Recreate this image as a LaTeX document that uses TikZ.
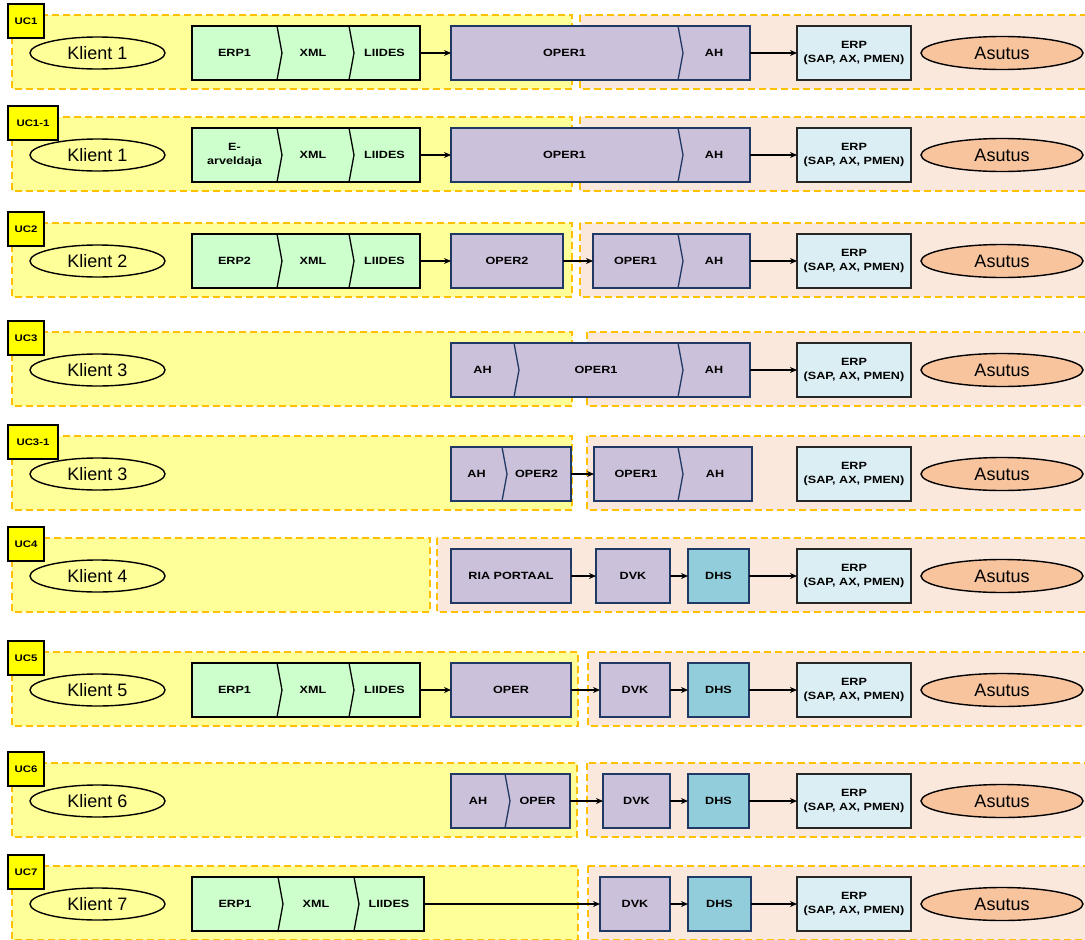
\documentclass[tikz,border=0pt]{standalone}
\usepackage{fontspec}
\setmainfont{Liberation Sans}
\newfontfamily\lbl{Liberation Sans}[FakeStretch=1.2]
\usetikzlibrary{shapes.geometric,arrows.meta}
\definecolor{yfill}{HTML}{FFFF99}
\definecolor{pfill}{HTML}{FBE8DC}
\definecolor{dashc}{HTML}{FFC000}
\definecolor{gfill}{HTML}{CCFFCC}
\definecolor{pufill}{HTML}{CCC1DA}
\definecolor{navy}{HTML}{1F3864}
\definecolor{dhsfill}{HTML}{92CDDC}
\definecolor{erpfill}{HTML}{DAEEF3}
\definecolor{asfill}{HTML}{F8C49E}
\definecolor{ucfill}{HTML}{FFFF00}
\newcommand\chevsep[2]{\draw[line width=1.3pt,#2] (#1.north east) -- ([xshift=5pt]#1.east) -- (#1.south east);}
\newcommand\chainbox[3]{\draw[line width=1.3pt,#3] (#1.north west) rectangle (#2.south east);}
\tikzset{
 yreg/.style={fill=yfill, draw=dashc, line width=1.2pt, dash pattern=on 7pt off 4pt},
 preg/.style={fill=pfill, draw=dashc, line width=1.2pt, dash pattern=on 7pt off 4pt},
 uclbl/.style={draw=black, fill=ucfill, line width=1.2pt, inner sep=0pt, outer sep=0pt, minimum height=34pt, anchor=north west, font=\lbl\bfseries\fontsize{9.5}{10}\selectfont},
 klient/.style={ellipse, draw=black, line width=1.4pt, minimum width=135pt, minimum height=32pt, inner sep=0pt, font=\fontsize{18}{20}\selectfont},
 asutus/.style={klient, fill=asfill, minimum width=162pt, minimum height=33pt},
 seg/.style={inner sep=0pt, outer sep=0pt, minimum height=54pt, anchor=west, align=center, font=\lbl\bfseries\fontsize{10.5}{14}\selectfont},
 gseg/.style={seg, fill=gfill},
 pseg/.style={seg, fill=pufill},
 pbox/.style={seg, fill=pufill, draw=navy, line width=1.3pt},
 dbox/.style={seg, fill=dhsfill, draw=navy, line width=1.3pt},
 ebox/.style={seg, fill=erpfill, draw=black!85, line width=1.3pt, minimum width=114pt},
 arr/.style={-{Stealth[length=7pt,width=6pt]}, line width=1.3pt, black},
}
\begin{document}
\begin{tikzpicture}[x=1pt,y=-1pt]
\clip (0,0) rectangle (1085,940);
\fill[white] (0,0) rectangle (1085,940);
% ---------- UC1
\begin{scope}[yshift=-53pt]
\draw[yreg] (12,-38) rectangle (572,36);
\draw[preg] (580,-38) rectangle (1095,36);
\node[uclbl, minimum width=36pt] (uc1) at (8,-49) {UC1};
\node[klient] (k1) at (97.5,0) {Klient 1};
\node[gseg, minimum width=85pt] (a1) at (192,0) {ERP1};
\node[gseg, minimum width=72pt] (b1) at (277,0) {XML};
\node[gseg, minimum width=71pt] (c1) at (349,0) {LIIDES};
\chainbox{a1}{c1}{black}\chevsep{a1}{black}\chevsep{b1}{black}
\node[pseg, minimum width=227pt] (d1) at (451,0) {OPER1};
\node[pseg, minimum width=72pt] (e1) at (678,0) {AH};
\chainbox{d1}{e1}{navy}\chevsep{d1}{navy}
\node[ebox] (f1) at (797,0) {ERP\\(SAP, AX, PMEN)};
\node[asutus] (g1) at (1002,0) {Asutus};
\draw[arr] (c1) -- (d1);
\draw[arr] (e1) -- (f1);
\end{scope}
% ---------- UC1-1
\begin{scope}[yshift=-155pt]
\draw[yreg] (12,-38) rectangle (572,36);
\draw[preg] (580,-38) rectangle (1095,36);
\node[uclbl, minimum width=50pt] (uc11) at (8,-49) {UC1-1};
\node[klient] (k11) at (97.5,0) {Klient 1};
\node[gseg, minimum width=85pt] (a11) at (192,0) {E-\\arveldaja};
\node[gseg, minimum width=72pt] (b11) at (277,0) {XML};
\node[gseg, minimum width=71pt] (c11) at (349,0) {LIIDES};
\chainbox{a11}{c11}{black}\chevsep{a11}{black}\chevsep{b11}{black}
\node[pseg, minimum width=227pt] (d11) at (451,0) {OPER1};
\node[pseg, minimum width=72pt] (e11) at (678,0) {AH};
\chainbox{d11}{e11}{navy}\chevsep{d11}{navy}
\node[ebox] (f11) at (797,0) {ERP\\(SAP, AX, PMEN)};
\node[asutus] (g11) at (1002,0) {Asutus};
\draw[arr] (c11) -- (d11);
\draw[arr] (e11) -- (f11);
\end{scope}
% ---------- UC2
\begin{scope}[yshift=-261pt]
\draw[yreg] (12,-38) rectangle (572,36);
\draw[preg] (580,-38) rectangle (1095,36);
\node[uclbl, minimum width=36pt] (uc2) at (8,-49) {UC2};
\node[klient] (k2) at (97.5,0) {Klient 2};
\node[gseg, minimum width=85pt] (a2) at (192,0) {ERP2};
\node[gseg, minimum width=72pt] (b2) at (277,0) {XML};
\node[gseg, minimum width=71pt] (c2) at (349,0) {LIIDES};
\chainbox{a2}{c2}{black}\chevsep{a2}{black}\chevsep{b2}{black}
\node[pbox, minimum width=112pt] (o2) at (451,0) {OPER2};
\node[pseg, minimum width=85pt] (d2) at (593,0) {OPER1};
\node[pseg, minimum width=72pt] (e2) at (678,0) {AH};
\chainbox{d2}{e2}{navy}\chevsep{d2}{navy}
\node[ebox] (f2) at (797,0) {ERP\\(SAP, AX, PMEN)};
\node[asutus] (g2) at (1002,0) {Asutus};
\draw[arr] (c2) -- (o2);
\draw[arr] (o2) -- (d2);
\draw[arr] (e2) -- (f2);
\end{scope}
% ---------- UC3
\begin{scope}[yshift=-370pt]
\draw[yreg] (12,-38) rectangle (572,36);
\draw[preg] (587,-38) rectangle (1095,36);
\node[uclbl, minimum width=36pt] (uc3) at (8,-49) {UC3};
\node[klient] (k3) at (97.5,0) {Klient 3};
\node[pseg, minimum width=63pt] (a3) at (451,0) {AH};
\node[pseg, minimum width=164pt] (d3) at (514,0) {OPER1};
\node[pseg, minimum width=72pt] (e3) at (678,0) {AH};
\chainbox{a3}{e3}{navy}\chevsep{a3}{navy}\chevsep{d3}{navy}
\node[ebox] (f3) at (797,0) {ERP\\(SAP, AX, PMEN)};
\node[asutus] (g3) at (1002,0) {Asutus};
\draw[arr] (e3) -- (f3);
\end{scope}
% ---------- UC3-1
\begin{scope}[yshift=-474pt]
\draw[yreg] (12,-38) rectangle (572,36);
\draw[preg] (587,-38) rectangle (1095,36);
\node[uclbl, minimum width=50pt] (uc31) at (8,-49) {UC3-1};
\node[klient] (k31) at (97.5,0) {Klient 3};
\node[pseg, minimum width=51pt] (a31) at (451,0) {AH};
\node[pseg, minimum width=69pt] (o31) at (502,0) {OPER2};
\chainbox{a31}{o31}{navy}\chevsep{a31}{navy}
\node[pseg, minimum width=84pt] (d31) at (594,0) {OPER1};
\node[pseg, minimum width=74pt] (e31) at (678,0) {AH};
\chainbox{d31}{e31}{navy}\chevsep{d31}{navy}
\node[ebox] (f31) at (797,0) {ERP\\(SAP, AX, PMEN)};
\node[asutus] (g31) at (1002,0) {Asutus};
\draw[arr] (o31) -- (d31);
\end{scope}
% ---------- UC4
\begin{scope}[yshift=-576pt]
\draw[yreg] (12,-38) rectangle (430,36);
\draw[preg] (437,-38) rectangle (1095,36);
\node[uclbl, minimum width=36pt] (uc4) at (8,-49) {UC4};
\node[klient] (k4) at (97.5,0) {Klient 4};
\node[pbox, minimum width=120pt] (r4) at (451,0) {RIA PORTAAL};
\node[pbox, minimum width=74pt] (v4) at (596,0) {DVK};
\node[dbox, minimum width=61pt] (h4) at (688,0) {DHS};
\node[ebox] (f4) at (797,0) {ERP\\(SAP, AX, PMEN)};
\node[asutus] (g4) at (1002,0) {Asutus};
\draw[arr] (r4) -- (v4);
\draw[arr] (v4) -- (h4);
\draw[arr] (h4) -- (f4);
\end{scope}
% ---------- UC5
\begin{scope}[yshift=-690pt]
\draw[yreg] (12,-38) rectangle (578,36);
\draw[preg] (588,-38) rectangle (1095,36);
\node[uclbl, minimum width=36pt] (uc5) at (8,-49) {UC5};
\node[klient] (k5) at (97.5,0) {Klient 5};
\node[gseg, minimum width=85pt] (a5) at (192,0) {ERP1};
\node[gseg, minimum width=72pt] (b5) at (277,0) {XML};
\node[gseg, minimum width=71pt] (c5) at (349,0) {LIIDES};
\chainbox{a5}{c5}{black}\chevsep{a5}{black}\chevsep{b5}{black}
\node[pbox, minimum width=120pt] (o5) at (451,0) {OPER};
\node[pbox, minimum width=70pt] (v5) at (600,0) {DVK};
\node[dbox, minimum width=61pt] (h5) at (688,0) {DHS};
\node[ebox] (f5) at (797,0) {ERP\\(SAP, AX, PMEN)};
\node[asutus] (g5) at (1002,0) {Asutus};
\draw[arr] (c5) -- (o5);
\draw[arr] (o5) -- (v5);
\draw[arr] (v5) -- (h5);
\draw[arr] (h5) -- (f5);
\end{scope}
% ---------- UC6
\begin{scope}[yshift=-801pt]
\draw[yreg] (12,-38) rectangle (577,36);
\draw[preg] (587,-38) rectangle (1095,36);
\node[uclbl, minimum width=36pt] (uc6) at (8,-49) {UC6};
\node[klient] (k6) at (97.5,0) {Klient 6};
\node[pseg, minimum width=54pt] (a6) at (451,0) {AH};
\node[pseg, minimum width=65pt] (o6) at (505,0) {OPER};
\chainbox{a6}{o6}{navy}\chevsep{a6}{navy}
\node[pbox, minimum width=67pt] (v6) at (603,0) {DVK};
\node[dbox, minimum width=61pt] (h6) at (688,0) {DHS};
\node[ebox] (f6) at (797,0) {ERP\\(SAP, AX, PMEN)};
\node[asutus] (g6) at (1002,0) {Asutus};
\draw[arr] (o6) -- (v6);
\draw[arr] (v6) -- (h6);
\draw[arr] (h6) -- (f6);
\end{scope}
% ---------- UC7
\begin{scope}[yshift=-904pt]
\draw[yreg] (12,-38) rectangle (578,36);
\draw[preg] (588,-38) rectangle (1095,36);
\node[uclbl, minimum width=36pt] (uc7) at (8,-49) {UC7};
\node[klient] (k7) at (97.5,0) {Klient 7};
\node[gseg, minimum width=86pt] (a7) at (192,0) {ERP1};
\node[gseg, minimum width=76pt] (b7) at (278,0) {XML};
\node[gseg, minimum width=70pt] (c7) at (354,0) {LIIDES};
\chainbox{a7}{c7}{black}\chevsep{a7}{black}\chevsep{b7}{black}
\node[pbox, minimum width=70pt] (v7) at (600,0) {DVK};
\node[dbox, minimum width=63pt] (h7) at (688,0) {DHS};
\node[ebox] (f7) at (797,0) {ERP\\(SAP, AX, PMEN)};
\node[asutus] (g7) at (1002,0) {Asutus};
\draw[arr] (c7) -- (v7);
\draw[arr] (v7) -- (h7);
\draw[arr] (h7) -- (f7);
\end{scope}
\end{tikzpicture}
\end{document}
